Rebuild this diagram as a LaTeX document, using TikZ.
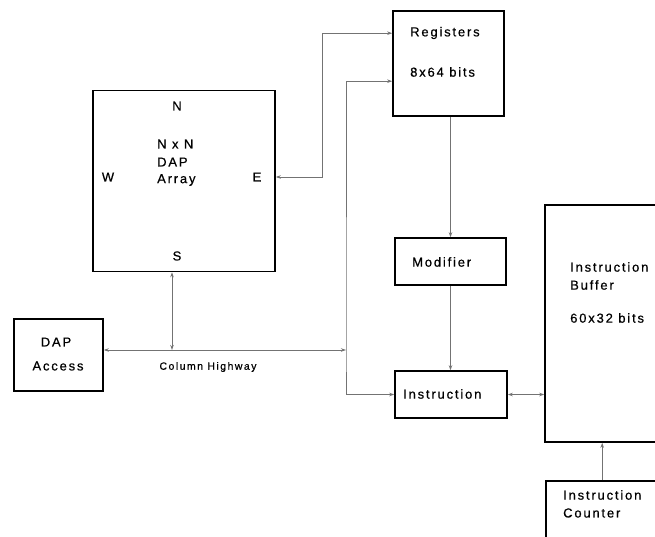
\documentclass[tikz,border=0pt]{standalone}
\usepackage{fontspec}
\setmainfont[LetterSpace=14,FakeBold=0.6]{Liberation Sans}
\usetikzlibrary{arrows.meta, calc, positioning}

\begin{document}
\begin{tikzpicture}[x=1pt,y=-1pt,
    box/.style={draw, line width=1.6pt, inner sep=0pt},
    link/.style={draw=black!55, line width=0.9pt, >={Stealth[length=5pt,width=3.5pt]}},
    txt/.style={font=\fontsize{13}{16}\selectfont, inner sep=0pt, anchor=west},
    tag/.style={txt, anchor=center}]
    \useasboundingbox (0,0) rectangle (655,536);
    \clip (0,0) rectangle (655,536);
    % boxes
    \node[box, minimum width=182pt, minimum height=181pt] (array) at (184,181) {}; %DAP array
    \node[box, minimum width=111pt, minimum height=105pt] (reg) at (448.5,63.5) {}; %registers
    \node[box, minimum width=89pt, minimum height=72pt] (dap) at (58.5,355) {}; %DAP access
    \node[box, minimum width=111pt, minimum height=47pt] (mod) at (450.5,261.5) {}; %modifier
    \node[box, minimum width=112pt, minimum height=47pt] (instr) at (451,394.5) {}; %instruction
    \node[box, minimum width=160pt, minimum height=237pt] (buf) at (625,323.5) {}; %buffer
    \node[box, minimum width=160pt, minimum height=80pt] (ctr) at (626,521) {}; %counter
    % texts
    \node[tag] (north) at (177,106) {N};
    \node[tag] (west) at (108,177) {W};
    \node[tag] (east) at (257,177) {E};
    \node[tag] (south) at (177,256) {S};
    \node[txt] (arrA) at (157,144) {N x N};
    \node[txt] (arrB) at (157,162) {DAP};
    \node[txt] (arrC) at (157,180) {Array};
    \node[txt] (regname) at (410,33) {Registers};
    \node[txt] (regsize) at (410,72) {8x64 bits};
    \node[tag] (dapA) at (56,342) {DAP};
    \node[tag] (dapB) at (58,366) {Access};
    \node[tag, font=\fontsize{10.5}{12}\selectfont] (hwyname) at (208,367) {Column Highway};
    \node[txt] (modname) at (412,262) {Modifier};
    \node[txt] (instrname) at (403,394) {Instruction};
    \node[txt] (bufA) at (570,267) {Instruction};
    \node[txt] (bufB) at (570,285) {Buffer};
    \node[txt] (bufC) at (570,318) {60x32 bits};
    \node[txt] (ctrA) at (563,495) {Instruction};
    \node[txt] (ctrB) at (563,513) {Counter};
    % connectors
    \coordinate (regin1) at ($(reg.north west)+(0,23)$);
    \coordinate (regin2) at ($(reg.north west)+(0,71)$);
    \coordinate (ebend) at (322,177);
    \coordinate (hwy) at (346,350);
    \coordinate (tap) at (172,350);
    \coordinate (ctrout) at ($(ctr.north west)+(57,0)$);
    \draw[link,<->] (ebend -| array.east) -- (ebend) |- (regin1); %E - registers
    \draw[link,<->] (hwy -| dap.east) -- (hwy); %column highway
    \draw[link,<->] (tap |- array.south) -- (tap); %S - highway
    \draw[link,<->] (regin2) -| (hwy) |- (instr.west); %bus
    \draw[link,->] (mod.north |- reg.south) -- (mod.north);
    \draw[link,->] (mod.south) -- (mod.south |- instr.north);
    \draw[link,<->] (instr.east) -- (instr.east -| buf.west);
    \draw[link,->] (ctrout) -- (ctrout |- buf.south);
\end{tikzpicture}
\end{document}
